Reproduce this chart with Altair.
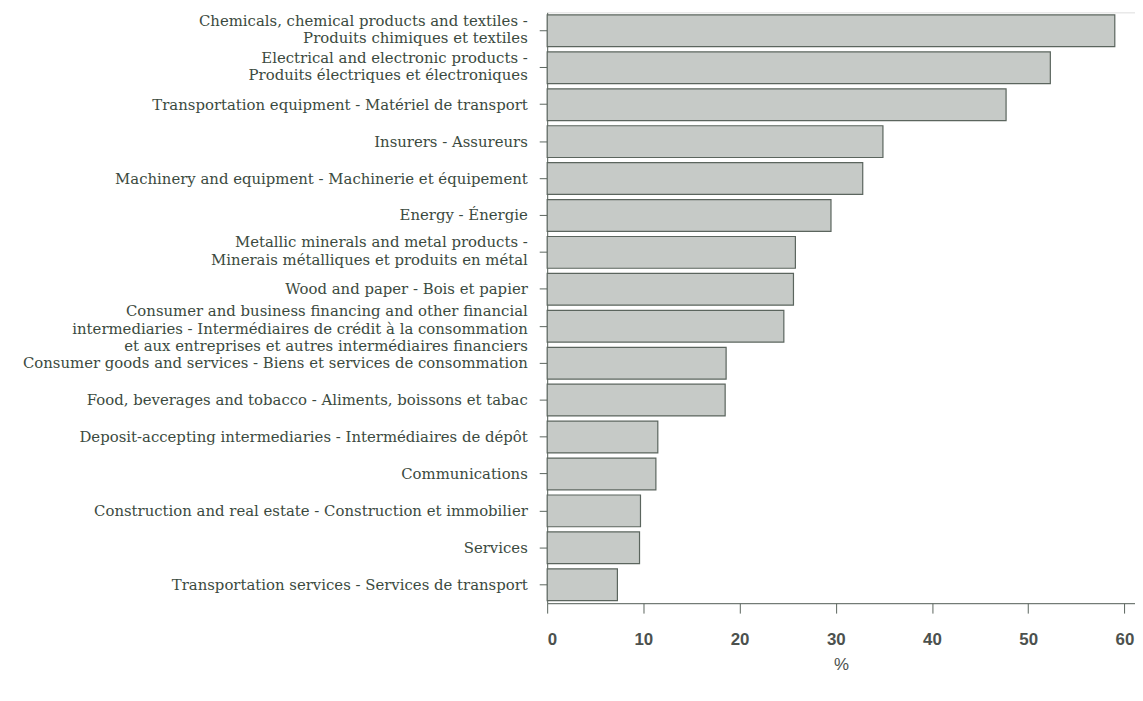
import altair as alt
import pandas as pd

categories = [
    "Chemicals, chemical products and textiles -|Produits chimiques et textiles",
    "Electrical and electronic products -|Produits électriques et électroniques",
    "Transportation equipment - Matériel de transport",
    "Insurers - Assureurs",
    "Machinery and equipment - Machinerie et équipement",
    "Energy - Énergie",
    "Metallic minerals and metal products -|Minerais métalliques et produits en métal",
    "Wood and paper - Bois et papier",
    "Consumer and business financing and other financial|intermediaries - Intermédiaires de crédit à la consommation|et aux entreprises et autres intermédiaires financiers",
    "Consumer goods and services - Biens et services de consommation",
    "Food, beverages and tobacco - Aliments, boissons et tabac",
    "Deposit-accepting intermediaries - Intermédiaires de dépôt",
    "Communications",
    "Construction and real estate - Construction et immobilier",
    "Services",
    "Transportation services - Services de transport",
]
values = [59.0, 52.3, 47.7, 34.9, 32.8, 29.5, 25.8, 25.6, 24.6, 18.6, 18.5, 11.5, 11.3, 9.7, 9.6, 7.3]
x_ticks = [0, 10, 20, 30, 40, 50, 60]

df = pd.DataFrame({"sector": categories, "value": values})

label_offset = {
    "condition": [
        {"test": "length(split(datum.value, '|')) == 3", "value": -15},
        {"test": "length(split(datum.value, '|')) == 2", "value": -10},
    ],
    "value": 0,
}

chart = (
    alt.Chart(df)
    .mark_bar(fill="#c6cac7", stroke="#5b655e", strokeWidth=1.2)
    .encode(
        x=alt.X(
            "value:Q",
            scale=alt.Scale(domain=[0, 61.1], nice=False, zero=True),
            axis=alt.Axis(
                values=x_ticks,
                title="%",
                grid=False,
                tickSize=10,
                labelPadding=19,
                labelFont="Liberation Sans",
                labelFontSize=17,
                labelFontWeight="bold",
                labelColor="#4c514e",
                titleFont="Liberation Sans",
                titleFontSize=17,
                titleFontWeight="normal",
                titleColor="#4c514e",
                titlePadding=9,
                domainColor="#5b655e",
                tickColor="#5b655e",
            ),
        ),
        y=alt.Y(
            "sector:N",
            sort=categories,
            scale=alt.Scale(paddingInner=0.14, paddingOuter=0.07),
            axis=alt.Axis(
                title=None,
                labelExpr="split(datum.label, '|')",
                labelFont="DejaVu Serif",
                labelFontSize=15,
                labelLineHeight=17.5,
                labelColor="#3b4a40",
                labelLimit=600,
                labelOffset=label_offset,
                tickSize=8,
                labelPadding=12,
                domainColor="#5b655e",
                tickColor="#5b655e",
            ),
        ),
    )
    .properties(
        width=592,
        height=595,
        autosize=alt.AutoSizeParams(type="none"),
        padding={"left": 543, "top": 2, "right": 0, "bottom": 80},
    )
    .configure_view(stroke=None)
    .configure(background="white")
)

chart.save("out.html", embed_options={"renderer": "svg", "actions": False})
